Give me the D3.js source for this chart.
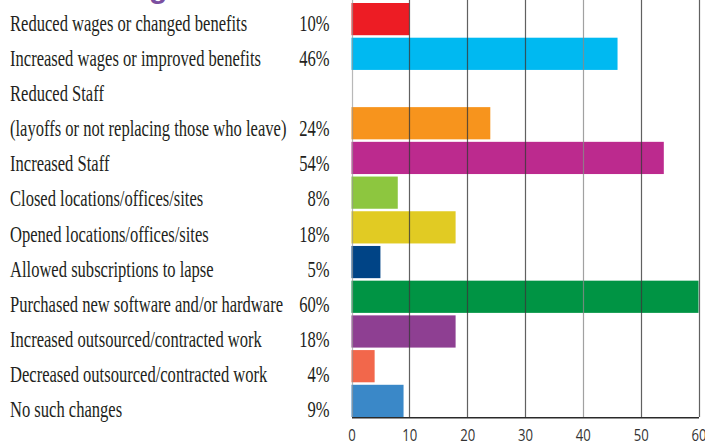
<!DOCTYPE html>
<html>
<head>
<meta charset="utf-8">
<script src="https://cdn.jsdelivr.net/npm/d3@7/dist/d3.min.js"></script>
<style>
  html, body { margin: 0; padding: 0; background: #fff; overflow: hidden; }
  svg { display: block; }
</style>
</head>
<body>
<script>
// Survey responses: changes made during the year (percent of respondents)
const categories = [
  "Reduced wages or changed benefits",
  "Increased wages or improved benefits",
  "Reduced Staff|(layoffs or not replacing those who leave)",
  "Increased Staff",
  "Closed locations/offices/sites",
  "Opened locations/offices/sites",
  "Allowed subscriptions to lapse",
  "Purchased new software and/or hardware",
  "Increased outsourced/contracted work",
  "Decreased outsourced/contracted work",
  "No such changes"
];
const values = [10, 46, 24, 54, 8, 18, 5, 60, 18, 4, 9];
const colors = [
  "#ED1C24", "#00B9F1", "#F7941D", "#BC2A8E", "#8DC63F", "#E1CB23",
  "#004486", "#009444", "#8E3F92", "#F2674B", "#3A88C8"
];
const xTicks = [0, 10, 20, 30, 40, 50, 60];

const W = 705, H = 441;
const svg = d3.select("body").append("svg").attr("width", W).attr("height", H);

// Rows: the two-line label takes an extra slot above its bar
const slots = [];
categories.forEach((c, i) => {
  const lines = c.split("|");
  lines.slice(0, -1).forEach((_, k) => slots.push("spacer-" + i + "-" + k));
  slots.push(c);
});

const x = d3.scaleLinear().domain([0, 60]).range([351.5, 698.5]);
const y = d3.scaleBand().domain(slots).range([3, 417]).paddingInner(0.072).paddingOuter(0);
const yText = d3.scalePoint().domain(slots).range([31, 417]);

// Partial heading glyph at the top edge
svg.append("text")
  .attr("x", 149).attr("y", -2)
  .attr("font-family", "Liberation Sans, Arial, sans-serif")
  .attr("font-size", 30).attr("font-weight", "bold")
  .attr("fill", "#7B4FA0")
  .text("g");

// Bars
svg.append("g").selectAll("rect")
  .data(categories)
  .join("rect")
  .attr("x", x(0))
  .attr("y", d => y(d))
  .attr("width", (d, i) => x(values[i]) - x(0))
  .attr("height", y.bandwidth())
  .attr("fill", (d, i) => colors[i]);

// Vertical gridlines drawn over bars
svg.append("g").selectAll("line")
  .data(xTicks)
  .join("line")
  .attr("x1", d => Math.round(x(d)) + 0.5)
  .attr("x2", d => Math.round(x(d)) + 0.5)
  .attr("y1", 0).attr("y2", 417)
  .attr("stroke", d => d === 0 ? "#9a9a9a" : (d === 40 ? "#8a8a8a" : "#3a3a3a"))
  .attr("stroke-opacity", d => d === 0 ? 0.7 : 0.8)
  .attr("stroke-width", 1.2);

// Bottom axis
const axis = d3.axisBottom(x).tickValues(xTicks).tickSize(0).tickPadding(0);
const ag = svg.append("g").attr("transform", "translate(0,417.3)").call(axis);
ag.select(".domain").attr("stroke", "#2a2a2a").attr("stroke-width", 1.4);
ag.selectAll(".tick text")
  .attr("font-family", "Open Sans, sans-serif")
  .attr("font-size", 16)
  .attr("fill", "#333")
  .attr("dy", 0)
  .attr("y", 23.5)
  .attr("text-anchor", "middle")
  .attr("transform", "scale(0.82,1)");

// Category labels and percentages (condensed serif)
const sx = 0.72;
const labels = svg.append("g")
  .attr("transform", `scale(${sx},1)`)
  .attr("font-family", "Liberation Serif, Times New Roman, serif")
  .attr("font-size", 23)
  .attr("fill", "#231F20");

categories.forEach((c, i) => {
  const lines = c.split("|");
  const lastSlot = slots.indexOf(c);
  lines.forEach((ln, k) => {
    const slot = slots[lastSlot - (lines.length - 1 - k)];
    labels.append("text")
      .attr("x", 10 / sx)
      .attr("y", yText(slot))
      .text(ln);
  });
  labels.append("text")
    .attr("x", 329.5 / sx)
    .attr("y", yText(c))
    .attr("text-anchor", "end")
    .text(values[i] + "%");
});
</script>
</body>
</html>
